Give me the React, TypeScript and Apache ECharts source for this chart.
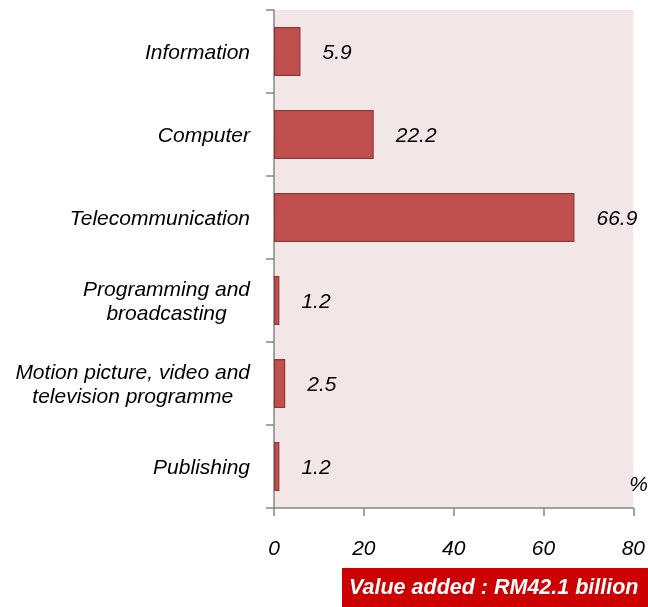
import React, { useEffect, useRef } from "react";
import * as echarts from "echarts";

const categories = [
  "Information",
  "Computer",
  "Telecommunication",
  "Programming and\nbroadcasting",
  "Motion picture, video and\ntelevision programme",
  "Publishing",
];
const shares = [5.9, 22.2, 66.9, 1.2, 2.5, 1.2];
const xTicks = [0, 20, 40, 60, 80];
const unitLabel = "%";
const footnote = "Value added : RM42.1 billion";

const FONT = "'Liberation Sans', Arial, sans-serif";
const FS = 21;

export default function App() {
  const ref = useRef<HTMLDivElement>(null);
  useEffect(() => {
    if (!ref.current) return;
    const chart = echarts.init(ref.current, undefined, { renderer: "svg" });
    chart.setOption({
      animation: false,
      grid: {
        left: 274,
        right: 12,
        top: 10,
        bottom: 99,
        show: true,
        backgroundColor: "#F2E6E6",
        borderWidth: 0,
      },
      xAxis: {
        type: "value",
        min: xTicks[0],
        max: xTicks[xTicks.length - 1],
        interval: 20,
        axisLine: { show: true, lineStyle: { color: "#868686", width: 1.5 } },
        axisTick: { show: true, length: 8, lineStyle: { color: "#868686", width: 1.5 } },
        splitLine: { show: false },
        axisLabel: {
          margin: 29,
          fontSize: FS,
          fontStyle: "italic",
          fontFamily: FONT,
          color: "#000",
        },
      },
      yAxis: {
        type: "category",
        inverse: true,
        data: categories,
        axisLine: { show: true, lineStyle: { color: "#868686", width: 1.5 } },
        axisTick: { show: true, length: 8, lineStyle: { color: "#868686", width: 1.5 } },
        axisLabel: {
          margin: 24,
          fontSize: FS,
          lineHeight: 24,
          fontStyle: "italic",
          fontFamily: FONT,
          color: "#000",
          formatter: (v: string) =>
            v
              .split("\n")
              .map((l) => `{c|${l}}`)
              .join("\n"),
          rich: {
            c: {
              align: "center",
              fontSize: FS,
              lineHeight: 24,
              fontStyle: "italic",
              fontFamily: FONT,
              color: "#000",
            },
          },
        },
      },
      series: [
        {
          type: "bar",
          data: shares,
          barWidth: "59%",
          itemStyle: { color: "#C0504D", borderColor: "#8C3A38", borderWidth: 1.2 },
          label: {
            show: true,
            position: "right",
            distance: 22,
            fontSize: FS,
            fontStyle: "italic",
            fontFamily: FONT,
            color: "#000",
            formatter: (p: any) => p.value.toFixed(1),
          },
        },
      ],
      graphic: [
        {
          type: "text",
          right: 0,
          top: 473,
          style: {
            text: unitLabel,
            fontSize: FS,
            fontStyle: "italic",
            fontFamily: FONT,
            fill: "#000",
          },
        },
        {
          type: "rect",
          left: 342,
          top: 568,
          shape: { width: 306, height: 39 },
          style: { fill: "#CC0000" },
        },
        {
          type: "text",
          left: 349,
          top: 576,
          style: {
            text: footnote,
            fontSize: 21.5,
            fontWeight: "bold",
            fontStyle: "italic",
            fontFamily: FONT,
            fill: "#fff",
          },
        },
      ],
    });
    return () => chart.dispose();
  }, []);
  return (
    <div
      ref={ref}
      style={{ position: "fixed", left: 0, top: 0, width: 648, height: 607 }}
    />
  );
}
